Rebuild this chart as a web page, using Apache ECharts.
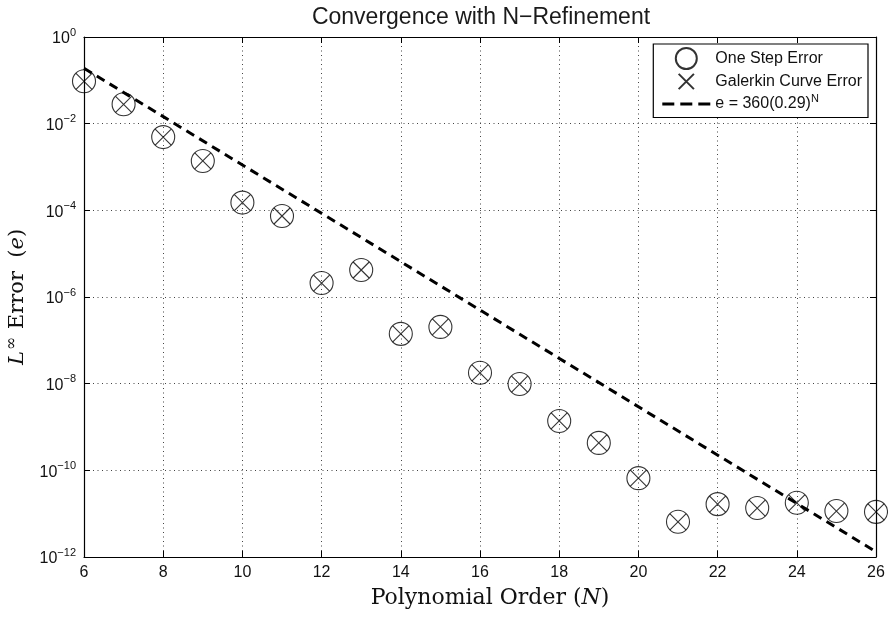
<!DOCTYPE html>
<html>
<head>
<meta charset="utf-8">
<script src="https://cdn.jsdelivr.net/npm/echarts@6/dist/echarts.min.js"></script>
<style>
  html, body { margin: 0; padding: 0; background: #fff; }
  #chart { width: 888px; height: 619px; }
</style>
</head>
<body>
<div id="chart"></div>
<script>
// Polynomial order N
const orders = [6, 7, 8, 9, 10, 11, 12, 13, 14, 15, 16, 17, 18, 19, 20, 21, 22, 23, 24, 25, 26];
// L-infinity error of the one-step solution
const oneStepError = [9.5e-2, 2.8e-2, 4.9e-3, 1.38e-3, 1.51e-4, 7.4e-5, 2.1e-6, 4.2e-6, 1.41e-7, 2.04e-7,
  1.78e-8, 9.8e-9, 1.38e-9, 4.3e-10, 6.6e-11, 6.5e-12, 1.66e-11, 1.35e-11, 1.78e-11, 1.15e-11, 1.1e-11];
// L-infinity error of the Galerkin curve
const galerkinError = [9.5e-2, 2.8e-2, 4.9e-3, 1.38e-3, 1.51e-4, 7.4e-5, 2.1e-6, 4.2e-6, 1.41e-7, 2.04e-7,
  1.78e-8, 9.8e-9, 1.38e-9, 4.3e-10, 6.6e-11, 6.5e-12, 1.66e-11, 1.35e-11, 1.78e-11, 1.15e-11, 1.1e-11];
// Exponential fit, end points
const fitOrders = [6, 26];
const fitError = [1.9e-1, 1.32e-12];
// Axis ticks
const xTicks = [6, 8, 10, 12, 14, 16, 18, 20, 22, 24, 26];
const yExponents = [0, -2, -4, -6, -8, -10, -12];

const SANS = '"Liberation Sans", Arial, Helvetica, sans-serif';
const SERIF = '"DejaVu Serif", "Liberation Serif", serif';

const chart = echarts.init(document.getElementById('chart'), null, { renderer: 'canvas' });

const pairs = (xs, ys) => xs.map((x, i) => [x, ys[i]]);
// cross marker, inset inside a 22x22 box so it sits inside the circle
const xMark = 'path://M0,0L0.01,0M3,3L19,19M19,3L3,19M22,22L22.01,22';
// dashed legend swatch for the fit line
const dashIcon = 'path://M0,0L0.01,0M0,21L0.01,21M0,9h12v3h-12zM18,9h12v3h-12zM36,9h12v3h-12z';

const gridLine = { show: true, lineStyle: { color: '#444', width: 1, type: [1, 3.5] } };
const frame = { show: true, onZero: false, lineStyle: { color: '#000', width: 1.2 } };
const inTicks = { show: true, inside: true, length: 6, lineStyle: { color: '#000', width: 1 } };

const option = {
  backgroundColor: '#fff',
  animation: false,
  title: {
    text: 'Convergence with N\u2212Refinement',
    left: 476, textAlign: 'center', top: 1,
    textStyle: { fontFamily: SANS, fontSize: 23, fontWeight: 'normal', color: '#1a1a1a' }
  },
  grid: { left: 84, right: 12, top: 37, bottom: 62, containLabel: false, outerBoundsMode: 'none' },
  legend: {
    orient: 'vertical',
    right: 20, top: 44,
    backgroundColor: '#fff',
    borderColor: '#000', borderWidth: 1.2,
    padding: [3, 6, 3, 9],
    itemGap: 0,
    itemWidth: 48, itemHeight: 21,
    textStyle: {
      fontFamily: SANS, fontSize: 16, color: '#111',
      rich: {
        t: { fontFamily: SANS, fontSize: 16, color: '#111' },
        sup: { fontFamily: SANS, fontSize: 11, color: '#111', padding: [0, 0, 11, 0] }
      }
    },
    formatter: name => name === 'fit' ? '{t|e = 360(0.29)}{sup|N}' : name,
    data: ['One Step Error', 'Galerkin Curve Error', { name: 'fit', icon: dashIcon }]
  },
  xAxis: [{
    type: 'value', min: 6, max: 26, interval: 2,
    axisLine: frame, axisTick: inTicks, splitLine: gridLine,
    axisLabel: { fontFamily: SANS, fontSize: 16, color: '#111', margin: 8,
      formatter: v => xTicks.includes(v) ? String(v) : '' },
    name: '{r|Polynomial Order (}{i|N}{r|)}',
    nameLocation: 'middle', nameGap: 30,
    nameTextStyle: { padding: [0, 0, 0, 20], rich: {
      r: { fontFamily: SERIF, fontSize: 22, color: '#111' },
      i: { fontFamily: SERIF, fontSize: 22, fontStyle: 'italic', color: '#111' }
    } }
  }, {
    type: 'value', min: 6, max: 26, interval: 2, position: 'top',
    axisLine: frame, axisTick: inTicks, axisLabel: { show: false }, splitLine: { show: false }
  }],
  yAxis: [{
    type: 'log', logBase: 10, min: 1e-12, max: 1, interval: 2,
    axisLine: frame, axisTick: inTicks, splitLine: gridLine,
    minorTick: { show: false },
    axisLabel: {
      margin: 8,
      formatter: v => {
        const e = Math.round(Math.log10(v));
        if (!yExponents.includes(e)) return '';
        return '{b|10}{s|' + (e === 0 ? '0' : '\u2212' + (-e)) + '}';
      },
      rich: {
        b: { fontFamily: SANS, fontSize: 16, color: '#111', padding: [4, 0, 0, 0] },
        s: { fontFamily: SANS, fontSize: 11, color: '#111', padding: [0, 0, 9, 0] }
      }
    },
    name: '{i|L}{sup|\u221E}{r| Error  (}{i|e}{r|)}',
    nameLocation: 'middle', nameGap: 52, nameRotate: 90,
    nameTextStyle: { rich: {
      r: { fontFamily: SERIF, fontSize: 21, color: '#111' },
      i: { fontFamily: SERIF, fontSize: 21, fontStyle: 'italic', color: '#111' },
      sup: { fontFamily: SERIF, fontSize: 16, color: '#111', padding: [0, 1, 12, 1] }
    } }
  }, {
    type: 'log', logBase: 10, min: 1e-12, max: 1, interval: 2, position: 'right',
    axisLine: frame, axisTick: inTicks, axisLabel: { show: false }, splitLine: { show: false }
  }],
  series: [{
    name: 'One Step Error', type: 'scatter',
    data: pairs(orders, oneStepError),
    symbol: 'circle', symbolSize: 23,
    itemStyle: { color: 'rgba(0,0,0,0)', borderColor: '#000', borderWidth: 1.1 },
    z: 3
  }, {
    name: 'Galerkin Curve Error', type: 'scatter',
    data: pairs(orders, galerkinError),
    symbol: xMark, symbolSize: 22, symbolKeepAspect: true,
    itemStyle: { color: 'rgba(0,0,0,0)', borderColor: '#000', borderWidth: 1.1 },
    z: 3
  }, {
    name: 'fit', type: 'line',
    data: pairs(fitOrders, fitError),
    symbol: 'none', showSymbol: false,
    lineStyle: { color: '#000', width: 3, type: [9, 6] },
    itemStyle: { color: '#000' },
    z: 4
  }]
};

chart.setOption(option);
</script>
</body>
</html>
